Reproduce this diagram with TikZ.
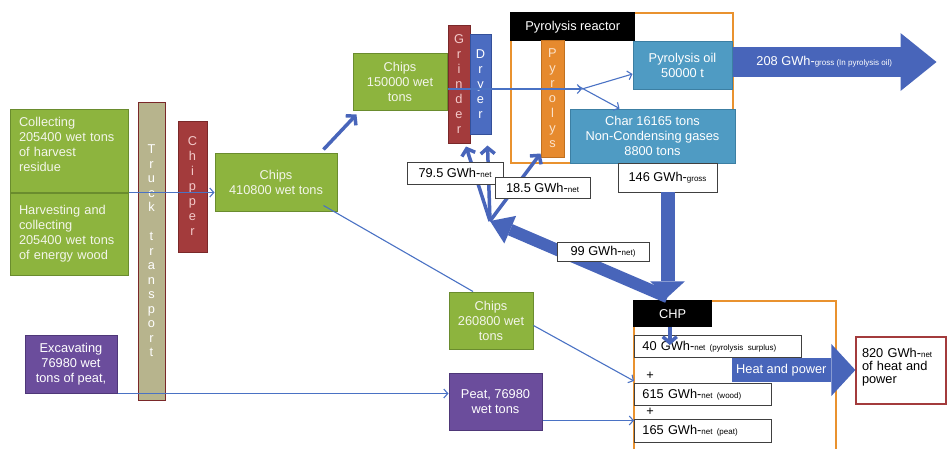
\documentclass[tikz,border=0pt]{standalone}
\usepackage{fontspec}
\setmainfont{Liberation Sans}
\usetikzlibrary{arrows.meta}
\usetikzlibrary{positioning}

\definecolor{leafgreen}{HTML}{8DB43E}
\definecolor{leafedge}{HTML}{6A8C2E}
\definecolor{paletext}{HTML}{F3F5EA}
\definecolor{peatpurple}{HTML}{6B4D9C}
\definecolor{peatedge}{HTML}{4E3778}
\definecolor{oilblue}{HTML}{4F9BC3}
\definecolor{oiledge}{HTML}{3C7FA3}
\definecolor{flowblue}{HTML}{4865BA}
\definecolor{lineblue}{HTML}{4A72C4}
\definecolor{brick}{HTML}{A33B3C}
\definecolor{brickedge}{HTML}{7A2829}
\definecolor{pinktext}{HTML}{F3C9C9}
\definecolor{dryblue}{HTML}{4B6CC1}
\definecolor{dryedge}{HTML}{34509A}
\definecolor{pyrorange}{HTML}{E68A2E}
\definecolor{pyroedge}{HTML}{C0701F}
\definecolor{pyrotext}{HTML}{FBE3CC}
\definecolor{framorange}{HTML}{E9922F}
\definecolor{khaki}{HTML}{B7B48D}

\newcommand{\lab}{\fontsize{12.8}{15}\selectfont}
\newcommand{\sm}[1]{{\fontsize{8}{9}\selectfont #1}}

\tikzset{
  box/.style={draw, line width=1pt, inner sep=0pt, align=center, font=\lab},
  leaf/.style={box, fill=leafgreen, draw=leafedge, text=paletext},
  peatbox/.style={box, fill=peatpurple, draw=peatedge, text=white},
  oilbox/.style={box, fill=oilblue, draw=oiledge, text=white},
  tag/.style={box, fill=white, draw=black!75, line width=0.8pt},
  bar/.style={box, font=\fontsize{12.8}{15}\selectfont},
  headbar/.style={box, fill=black, draw=black, text=white},
  plantframe/.style={draw=framorange, line width=1.5pt, inner sep=0pt},
  thinline/.style={draw=lineblue, line width=1.1pt},
  flow/.style={thinline, -{Straight Barb[length=4pt,width=9pt]}},
  feed/.style={draw=flowblue, line width=3.5pt, -{Straight Barb[length=6pt,width=14pt]}},
  fat/.style={draw=flowblue, line width=#1},
}

\begin{document}
\begin{tikzpicture}[x=1pt,y=-1pt]
\useasboundingbox (0,0) rectangle (947,448);

% Frames
\node [plantframe, minimum width=222pt, minimum height=150pt] (reactor) at (622,88) {};
\node [plantframe, minimum width=202pt, minimum height=170pt] (chp) at (735,386) {};

% Raw material
\node [leaf, minimum width=118pt, minimum height=83pt, text width=100pt, align=left, text depth=58pt] (collect) at (69,150.5) {Collecting\\205400 wet tons\\of harvest\\residue};
\node [leaf, below=0pt of collect, minimum width=118pt, minimum height=82pt, text width=100pt, align=left] (harvest) {Harvesting and\\collecting\\205400 wet tons\\of energy wood};
\node [peatbox, minimum width=92pt, minimum height=58pt] (excav) at (71,364) {Excavating\\76980 wet\\tons of peat,};

\node [bar, fill=khaki, draw=brickedge, text=white, font=\fontsize{12.8}{14.5}\selectfont, minimum width=27pt, minimum height=298pt] (truck) at (151.5,251) {T\\r\\u\\c\\k\\[14.5pt]t\\r\\a\\n\\s\\p\\o\\r\\t};
\node [bar, fill=brick, draw=brickedge, text=pinktext, minimum width=29pt, minimum height=131pt] (chipper) at (192.5,186.5) {C\\h\\i\\p\\p\\e\\r};

% Chips
\node [leaf, minimum width=122pt, minimum height=58pt] (chipsA) at (276,182) {Chips\\410800 wet tons};
\node [leaf, minimum width=94pt, minimum height=57pt] (chipsB) at (400,81.5) {Chips\\150000 wet\\tons};
\node [leaf, minimum width=84pt, minimum height=57pt] (chipsC) at (491,320.5) {Chips\\260800 wet\\tons};
\node [peatbox, minimum width=93pt, minimum height=57pt] (peat) at (495.5,401.5) {Peat, 76980\\wet tons};

\node [bar, fill=brick, draw=brickedge, text=pinktext, minimum width=22pt, minimum height=118pt] (grinder) at (459,84) {G\\r\\i\\n\\d\\e\\r};
\node [bar, fill=dryblue, draw=dryedge, text=white, minimum width=21pt, minimum height=100pt, right=-1pt of grinder] (dryer) {D\\r\\y\\e\\r};

% Pyrolysis reactor
\node [headbar, anchor=north west, minimum width=124pt, minimum height=28pt] (reactorhead) at (reactor.north west) {Pyrolysis reactor};
\node [bar, fill=pyrorange, draw=pyroedge, text=pyrotext, minimum width=23pt, minimum height=117pt] (pyrolys) at (552.5,98.5) {P\\y\\r\\o\\l\\y\\s};
\node [oilbox, minimum width=99pt, minimum height=48pt] (oil) at (682.5,65) {Pyrolysis oil\\50000 t};
\node [oilbox, minimum width=165pt, minimum height=54pt] (char) at (652.5,136) {Char 16165 tons\\Non-Condensing gases\\8800 tons};
\node [tag, minimum width=99pt, minimum height=29pt] (gross146) at (667.5,177.5) {146 GWh-\sm{gross}};

% CHP plant
\node [headbar, anchor=north west, minimum width=78pt, minimum height=26pt] (chphead) at (chp.north west) {CHP};
\node [tag, anchor=north west, minimum width=167pt, minimum height=22pt, text width=151pt, align=left] (e40) at (634,335) {40 GWh-\sm{net (pyrolysis surplus)}};
\node [font=\lab] (plusA) at (650,376) {+};
\node [tag, anchor=north west, minimum width=137pt, minimum height=22pt, text width=121pt, align=left] (e615) at (634,383) {615 GWh-\sm{net (wood)}};
\node [font=\lab] (plusB) at (650,412) {+};
\node [tag, anchor=north west, minimum width=137pt, minimum height=23pt, text width=121pt, align=left] (e165) at (634,419) {165 GWh-\sm{net (peat)}};
\node [tag, draw=brick, line width=1.3pt, minimum width=90pt, minimum height=67pt, text width=78pt, align=left, text depth=36pt, font=\fontsize{12.8}{13}\selectfont] (out820) at (901,370.5) {820 GWh-\sm{net}\\of heat and\\power};

\coordinate (split) at (582,89);
\coordinate (hub) at (490,221);
\coordinate (hpstart) at (732,370);

% Material flows
\draw [flow] (collect.south east) -- (collect.south east -| chipsA.west);
\draw [flow] (excav.south east) -- (excav.south east -| peat.west);
\draw [feed] ([xshift=-14pt,yshift=3pt]chipsA.north east) -- ([xshift=4pt,yshift=-4pt]chipsB.south west);
\draw [thinline] ([xshift=-14pt,yshift=6pt]chipsA.south east) -- ([xshift=-18pt]chipsC.north);
\draw [flow] ([yshift=-5pt]chipsC.east) -- ([yshift=2pt]e615.north west);
\draw [flow] ([yshift=10pt]peat.south east) -- ([yshift=10pt]peat.south east -| e165.west);
\draw [flow] (chipsB.east |- split) -- (split);
\draw [flow] (split) -- ([yshift=-9pt]oil.west);
\draw [flow] ([xshift=-4pt,yshift=3pt]split) -- ([xshift=-33pt]char.north);

% Energy flows
\draw [fat=30pt, -{Triangle[length=36pt,width=58pt,line width=0pt]}] ([yshift=3pt]oil.east) -- ++(204,0) node [pos=0.45, text=white, font=\lab] (oilout) {208 GWh-\sm{gross (In pyrolysis oil)}};
\draw [fat=14pt, -{Triangle[length=16pt,width=35pt,line width=0pt]}] (gross146.south) -- ([yshift=3pt]gross146.south |- chp.north);
\draw [fat=12pt, -{Triangle[length=22pt,width=30pt,line width=0pt]}] ([yshift=3pt]gross146.south |- chp.north) -- (hub);
\draw [feed] (hub) -- ([xshift=7pt,yshift=-3pt]grinder.south);
\draw [feed] (hub) -- ([xshift=7pt,yshift=-11pt]dryer.south);
\draw [feed] (hub) -- ([yshift=4pt]pyrolys.south west);
\draw [feed] ([xshift=-3pt]chphead.south) -- ([xshift=-3pt,yshift=-10pt]chphead.south |- e40.north);
\draw [fat=24pt, -{Triangle[length=24pt,width=52pt,line width=0pt]}] (hpstart) -- (hpstart -| out820.west) node [pos=0.4, text=white, font=\lab] (hpout) {Heat and power};

% Labels
\node [tag, minimum width=96pt, minimum height=22pt] (e79) at (455,173) {79.5 GWh-\sm{net}};
\node [tag, minimum width=95pt, minimum height=21pt] (e18) at (542.5,187.5) {18.5 GWh-\sm{net}};
\node [tag, minimum width=92pt, minimum height=19pt] (e99) at (603,252) {99 GWh-\sm{net)}};
\end{tikzpicture}
\end{document}
